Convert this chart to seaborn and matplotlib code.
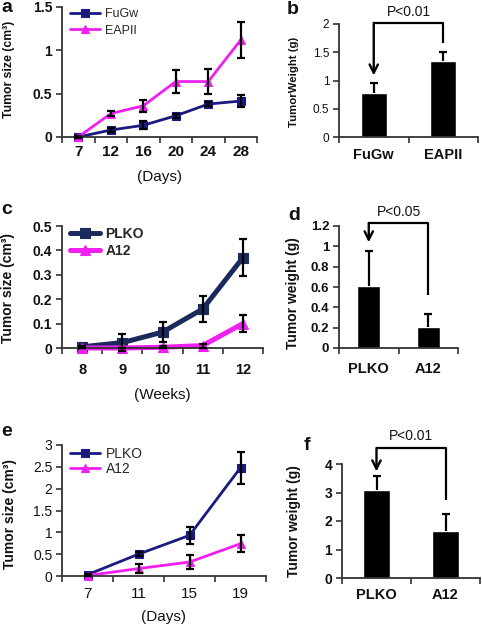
import numpy as np
import pandas as pd
import matplotlib
matplotlib.use('Agg')
import matplotlib.pyplot as plt
import seaborn as sns
from matplotlib.ticker import FixedLocator

# ---- dane ----
a_days = ['7', '12', '16', '20', '24', '28']
a_fugw = [0.0, 0.08, 0.135, 0.245, 0.38, 0.415]
a_fugw_err = [0.01, 0.025, 0.045, 0.025, 0.02, 0.065]
a_eapii = [0.0, 0.27, 0.36, 0.64, 0.64, 1.12]
a_eapii_err = [0.01, 0.03, 0.07, 0.13, 0.14, 0.21]
a_yticks = [0, 0.5, 1, 1.5]

b_groups = ['FuGw', 'EAPII']
b_weight = [0.78, 1.35]
b_err = [0.17, 0.15]
b_yticks = [0, 0.5, 1, 1.5, 2]
b_p = 'P<0.01'

c_weeks = ['8', '9', '10', '11', '12']
c_plko = [0.005, 0.022, 0.065, 0.16, 0.37]
c_plko_err = [0.005, 0.035, 0.042, 0.055, 0.075]
c_a12 = [0.0, 0.0, 0.003, 0.01, 0.10]
c_a12_err = [0.002, 0.002, 0.005, 0.008, 0.035]
c_yticks = [0, 0.1, 0.2, 0.3, 0.4, 0.5]

d_groups = ['PLKO', 'A12']
d_weight = [0.61, 0.21]
d_err = [0.34, 0.12]
d_yticks = [0, 0.2, 0.4, 0.6, 0.8, 1, 1.2]
d_p = 'P<0.05'

e_days = ['7', '11', '15', '19']
e_plko = [0.03, 0.5, 0.93, 2.48]
e_plko_err = [0.01, 0.04, 0.19, 0.37]
e_a12 = [0.01, 0.17, 0.32, 0.74]
e_a12_err = [0.005, 0.1, 0.15, 0.2]
e_yticks = [0, 0.5, 1, 1.5, 2, 2.5, 3]

f_groups = ['PLKO', 'A12']
f_weight = [3.08, 1.64]
f_err = [0.49, 0.62]
f_yticks = [0, 1, 2, 3, 4]
f_p = 'P<0.01'

NAVY = '#1a1a80'
NAVY_DARK = '#1b2a5c'
MAGENTA = '#f020f0'
INK = '#111111'

sns.set_style('ticks')
plt.rcParams['font.family'] = ['Liberation Sans', 'DejaVu Sans']
plt.rcParams['axes.edgecolor'] = '#333333'
plt.rcParams['axes.linewidth'] = 1.3

W, H = 482, 628
fig = plt.figure(figsize=(W / 100, H / 100), dpi=100)


def make_axes(left, right, top, bottom):
    return fig.add_axes([left / W, 1 - bottom / H, (right - left) / W, (bottom - top) / H])


def style_axes(ax, n, yticks, xfs, xbold, yfs, ybold, xpad):
    ax.set_xlim(-0.5, n - 0.5)
    ax.set_ylim(yticks[0], yticks[-1])
    ax.set_yticks(yticks)
    ax.set_yticklabels([f'{v:g}' for v in yticks])
    ax.xaxis.set_minor_locator(FixedLocator(np.arange(n + 1) - 0.5))
    ax.tick_params(axis='x', which='major', length=0, pad=xpad)
    ax.tick_params(axis='x', which='minor', length=4, width=1.2, color='#333333')
    ax.tick_params(axis='y', length=4, width=1.2, pad=3, color='#333333')
    for t in ax.get_xticklabels():
        t.set_fontsize(xfs)
        t.set_fontweight('bold' if xbold else 'normal')
        t.set_color(INK)
    for t in ax.get_yticklabels():
        t.set_fontsize(yfs)
        t.set_fontweight('bold' if ybold else 'normal')
        t.set_color(INK)
    sns.despine(ax=ax)


def line_panel(ax, cats, series, errs, names, colors, markers, lw, ms):
    df = pd.DataFrame({
        'x': cats * len(names),
        'y': [v for s in series for v in s],
        'grupa': [nm for nm in names for _ in cats],
    })
    sns.pointplot(data=df, x='x', y='y', hue='grupa', order=cats, hue_order=names,
                  palette=colors, markers=markers, linestyles=['-'] * len(names),
                  errorbar=None, ax=ax, linewidth=lw, markersize=ms,
                  markeredgewidth=0.8)
    pos = np.arange(len(cats))
    for s, e in zip(series, errs):
        ax.errorbar(pos, s, yerr=e, fmt='none', ecolor='black', elinewidth=1.6,
                    capsize=3, capthick=1.6, zorder=5, clip_on=False)
    for art in ax.lines + ax.collections:
        art.set_clip_on(False)
    ax.set_xlabel('')
    ax.set_ylabel('')


def bar_panel(ax, cats, vals, errs, width):
    sns.barplot(x=cats, y=vals, color='black', saturation=1, width=width,
                errorbar=None, ax=ax)
    pos = np.arange(len(cats))
    eb = ax.errorbar(pos, vals, yerr=[np.zeros(len(vals)), errs], fmt='none',
                     ecolor='black', elinewidth=1.6, capsize=3, capthick=1.6, zorder=5)
    # tylko górny wąs - dolny kapturek chowamy
    for cl in eb[1]:
        if np.allclose(cl.get_ydata(), vals):
            cl.set_visible(False)
    ax.set_xlabel('')
    ax.set_ylabel('')


def bracket(ax, text, y_right, y_top, y_tip, y_text):
    ax.plot([1, 1, 0], [y_right, y_top, y_top], color='black', lw=1.6,
            clip_on=False, solid_capstyle='butt')
    ax.annotate('', xy=(0, y_tip), xytext=(0, y_top), annotation_clip=False,
                arrowprops=dict(arrowstyle='->', color='black', lw=1.7,
                                mutation_scale=15, shrinkA=0, shrinkB=0))
    ax.text(0.5, y_text, text, ha='center', va='center', fontsize=10, color=INK)


def legend(ax, x, y, fs, bold, hl, spacing):
    handles, labels = ax.get_legend_handles_labels()
    ax.legend(handles, labels, loc='upper left', bbox_to_anchor=(x, y),
              frameon=False, borderpad=0, borderaxespad=0, handlelength=hl,
              handletextpad=0.4, labelspacing=spacing,
              prop={'size': fs, 'weight': 'bold' if bold else 'normal'})


# ---- a ----
ax = make_axes(62, 257, 7, 137)
line_panel(ax, a_days, [a_fugw, a_eapii], [a_fugw_err, a_eapii_err],
           ['FuGw', 'EAPII'], [NAVY, MAGENTA], ['s', '^'], 2.0, 5.5)
style_axes(ax, len(a_days), a_yticks, 11, True, 10, True, 6)
legend(ax, 0.04, 0.99, 9, False, 2.4, 0.35)
ax.set_ylabel('Tumor size (cm³)', fontsize=8.8, fontweight='bold', color=INK)
ax.yaxis.set_label_coords(-0.24, 0.52)
ax.set_xlabel('(Days)', fontsize=11, color=INK)
ax.xaxis.set_label_coords(0.5, -0.25)
ax.xaxis.label.set_va('top')

# ---- b ----
ax = make_axes(339, 478, 24, 137)
bar_panel(ax, b_groups, b_weight, b_err, 0.37)
style_axes(ax, len(b_groups), b_yticks, 10.5, True, 8.5, False, 8)
bracket(ax, b_p, 1.66, 2.02, 1.09, 2.21)
ax.set_ylabel('TumorWeight (g)', fontsize=8.2, fontweight='bold', color=INK)
ax.yaxis.set_label_coords(-0.29, 0.49)

# ---- c ----
ax = make_axes(62, 263, 226, 348)
line_panel(ax, c_weeks, [c_plko, c_a12], [c_plko_err, c_a12_err],
           ['PLKO', 'A12'], [NAVY_DARK, MAGENTA], ['s', '^'], 3.6, 7)
style_axes(ax, len(c_weeks), c_yticks, 10.5, True, 10, True, 11)
legend(ax, 0.04, 0.99, 10, True, 2.15, 0.2)
ax.set_ylabel('Tumor size (cm³)', fontsize=10, fontweight='bold', color=INK)
ax.yaxis.set_label_coords(-0.235, 0.49)
ax.set_xlabel('(Weeks)', fontsize=11, color=INK)
ax.xaxis.set_label_coords(0.5, -0.33)
ax.xaxis.label.set_va('top')

# ---- d ----
ax = make_axes(339, 458, 226, 348)
bar_panel(ax, d_groups, d_weight, d_err, 0.39)
style_axes(ax, len(d_groups), d_yticks, 10.5, True, 9.5, True, 10)
bracket(ax, d_p, 0.52, 1.23, 1.04, 1.34)
ax.set_ylabel('Tumor weight (g)', fontsize=10, fontweight='bold', color=INK)
ax.yaxis.set_label_coords(-0.33, 0.45)

# ---- e ----
ax = make_axes(62, 266, 445, 576)
line_panel(ax, e_days, [e_plko, e_a12], [e_plko_err, e_a12_err],
           ['PLKO', 'A12'], [NAVY, MAGENTA], ['s', '^'], 2.0, 5.5)
style_axes(ax, len(e_days), e_yticks, 11, False, 10, False, 8)
legend(ax, 0.04, 0.985, 10, False, 2.15, 0.1)
ax.set_ylabel('Tumor size (cm³)', fontsize=10, fontweight='bold', color=INK)
ax.yaxis.set_label_coords(-0.22, 0.47)
ax.set_xlabel('(Days)', fontsize=11, color=INK)
ax.xaxis.set_label_coords(0.5, -0.26)
ax.xaxis.label.set_va('top')

# ---- f ----
ax = make_axes(342, 480, 464, 578)
bar_panel(ax, f_groups, f_weight, f_err, 0.40)
style_axes(ax, len(f_groups), f_yticks, 10.5, True, 10, True, 7)
bracket(ax, f_p, 2.75, 4.56, 3.74, 5.0)
ax.set_ylabel('Tumor weight (g)', fontsize=10, fontweight='bold', color=INK)
ax.yaxis.set_label_coords(-0.30, 0.5)

# ---- litery paneli ----
for letter, (px, py) in zip('abcdef', [(7, 8), (293, 10), (7, 210), (294, 216), (7, 432), (307, 445)]):
    fig.text(px / W, 1 - py / H, letter, ha='center', va='center',
             fontsize=14, fontweight='bold', color=INK)

fig.savefig('out.png', dpi=100)
